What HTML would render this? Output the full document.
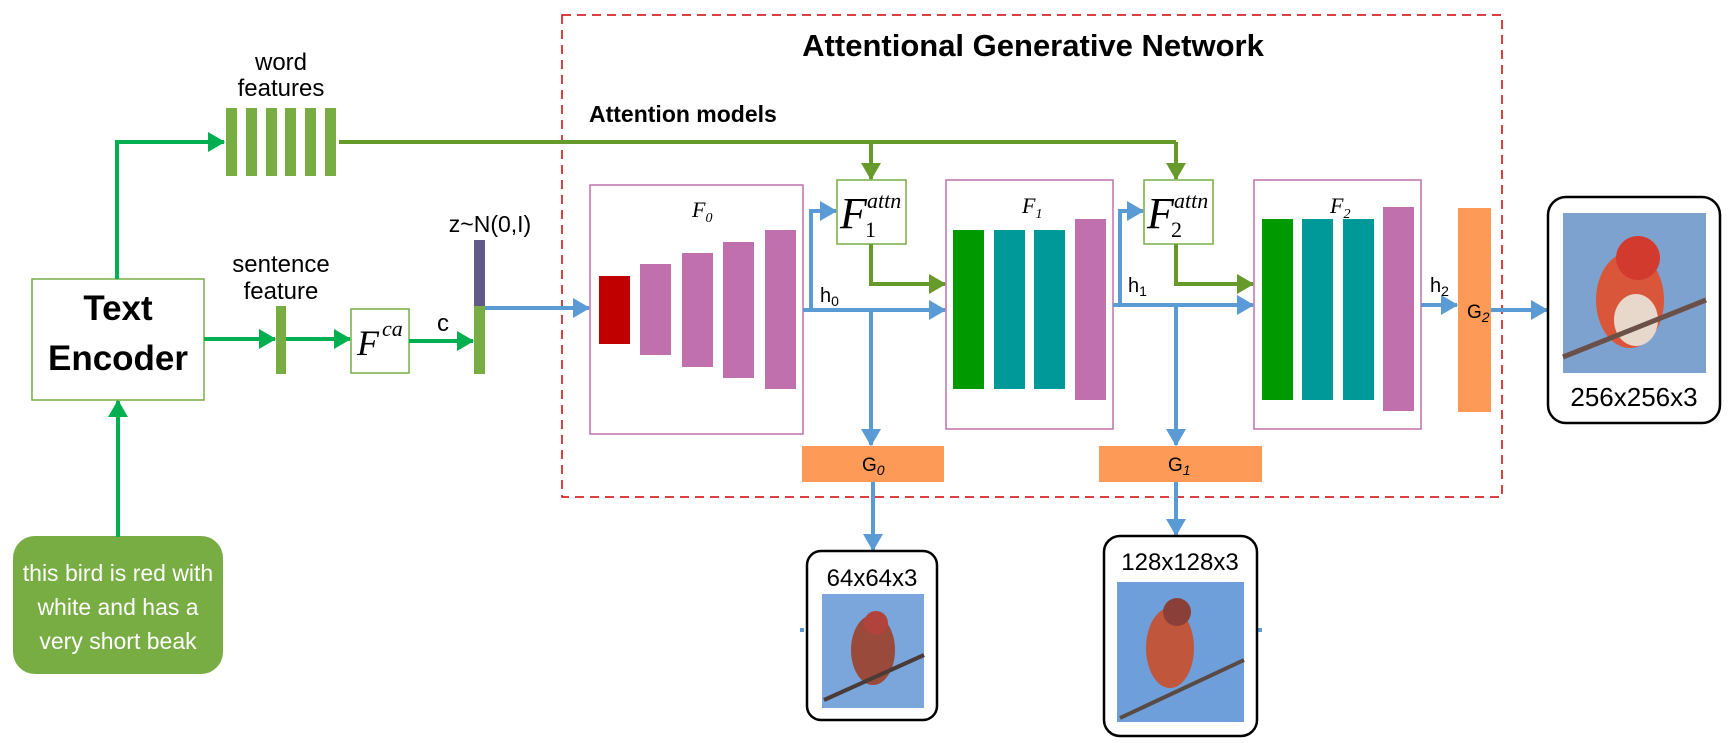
<!DOCTYPE html>
<html><head><meta charset="utf-8"><style>
html,body{margin:0;padding:0;background:#fff;}
svg{display:block;}
text{font-family:"Liberation Sans",sans-serif;}
</style></head><body>
<svg width="1732" height="743" viewBox="0 0 1732 743" xmlns="http://www.w3.org/2000/svg">
<defs>
<marker id="ag" markerWidth="4.5" markerHeight="5" refX="4" refY="2.5" orient="auto" markerUnits="strokeWidth"><path d="M0,0 L4.3,2.5 L0,5 z" fill="#00b050"/></marker>
<marker id="ao" markerWidth="4.5" markerHeight="5" refX="4" refY="2.5" orient="auto" markerUnits="strokeWidth"><path d="M0,0 L4.3,2.5 L0,5 z" fill="#669a2a"/></marker>
<marker id="ab" markerWidth="4.5" markerHeight="5" refX="4" refY="2.5" orient="auto" markerUnits="strokeWidth"><path d="M0,0 L4.3,2.5 L0,5 z" fill="#5b9bd5"/></marker>
</defs>

<rect x="562" y="15" width="940" height="482" fill="none" stroke="#d00000" stroke-width="1.5" stroke-dasharray="9,6"/>
<text x="1033" y="56" font-size="31" font-weight="bold" text-anchor="middle">Attentional Generative Network</text>
<text x="589" y="122" font-size="23" font-weight="bold">Attention models</text>

<rect x="32" y="279" width="172" height="121" fill="#fff" stroke="#77ad43" stroke-width="1.5"/>
<text x="118" y="320" font-size="35" font-weight="bold" text-anchor="middle">Text</text>
<text x="118" y="370" font-size="35" font-weight="bold" text-anchor="middle">Encoder</text>

<rect x="13" y="536" width="210" height="138" rx="22" fill="#77ad43"/>
<text font-size="23" fill="#fff" text-anchor="middle"><tspan x="118" y="581">this bird is red with</tspan><tspan x="118" y="615">white and has a</tspan><tspan x="118" y="649">very short beak</tspan></text>
<line x1="118" y1="537" x2="118" y2="401" stroke="#00b050" stroke-width="4" marker-end="url(#ag)"/>

<polyline points="117,279 117,142 224,142" fill="none" stroke="#00b050" stroke-width="4" marker-end="url(#ag)"/>
<g fill="#77ad43">
<rect x="226" y="108" width="11" height="68"/><rect x="246" y="108" width="11" height="68"/><rect x="266" y="108" width="11" height="68"/><rect x="285" y="108" width="11" height="68"/><rect x="305" y="108" width="11" height="68"/><rect x="325" y="108" width="11" height="68"/>
</g>
<text x="281" y="70" font-size="24" text-anchor="middle">word</text>
<text x="281" y="96" font-size="24" text-anchor="middle">features</text>
<polyline points="339,142 1176,142" fill="none" stroke="#669a2a" stroke-width="4"/>
<line x1="871" y1="142" x2="871" y2="179" stroke="#669a2a" stroke-width="4" marker-end="url(#ao)"/>
<line x1="1176" y1="142" x2="1176" y2="179" stroke="#669a2a" stroke-width="4" marker-end="url(#ao)"/>

<text x="281" y="272" font-size="24" text-anchor="middle">sentence</text>
<text x="281" y="299" font-size="24" text-anchor="middle">feature</text>
<line x1="204" y1="339" x2="275" y2="339" stroke="#00b050" stroke-width="4" marker-end="url(#ag)"/>
<rect x="276" y="306" width="10" height="68" fill="#77ad43"/>
<line x1="286" y1="339" x2="350" y2="339" stroke="#00b050" stroke-width="4" marker-end="url(#ag)"/>
<rect x="351" y="309" width="58" height="64" fill="#fff" stroke="#77ad43" stroke-width="1.5"/>
<text x="357" y="355" font-size="36" font-style="italic" style="font-family:'Liberation Serif',serif">F</text>
<text x="382" y="336" font-size="22" font-style="italic" style="font-family:'Liberation Serif',serif">ca</text>
<line x1="409" y1="341" x2="473" y2="341" stroke="#00b050" stroke-width="4" marker-end="url(#ag)"/>
<text x="443" y="331" font-size="24" text-anchor="middle">c</text>
<rect x="474" y="240" width="11" height="66" fill="#5f5a8a"/>
<rect x="474" y="306" width="11" height="68" fill="#77ad43"/>
<text x="490" y="232" font-size="23" text-anchor="middle">z~N(0,I)</text>
<line x1="485" y1="308" x2="589" y2="308" stroke="#5b9bd5" stroke-width="4" marker-end="url(#ab)"/>

<rect x="590" y="185" width="213" height="249" fill="#fff" stroke="#bf70ad" stroke-width="1.5"/>
<text x="692" y="217" font-size="22" font-style="italic" style="font-family:'Liberation Serif',serif">F<tspan font-size="14" dy="5">0</tspan></text>
<rect x="599" y="276" width="31" height="68" fill="#c00000"/>
<g fill="#bf70ad">
<rect x="640" y="264" width="31" height="91"/><rect x="682" y="253" width="31" height="114"/><rect x="723" y="242" width="31" height="136"/><rect x="765" y="230" width="31" height="159"/>
</g>
<line x1="803" y1="310" x2="945" y2="310" stroke="#5b9bd5" stroke-width="4" marker-end="url(#ab)"/>
<polyline points="811,310 811,211 836,211" fill="none" stroke="#5b9bd5" stroke-width="4" marker-end="url(#ab)"/>
<text x="820" y="302" font-size="20">h<tspan font-size="14" dy="4">0</tspan></text>
<line x1="871" y1="310" x2="871" y2="445" stroke="#5b9bd5" stroke-width="4" marker-end="url(#ab)"/>

<rect x="837" y="180" width="69" height="64" fill="#fff" stroke="#77ad43" stroke-width="1.5"/>
<text x="840" y="228" font-size="44" font-style="italic" style="font-family:'Liberation Serif',serif">F</text>
<text x="867" y="208" font-size="22" font-style="italic" style="font-family:'Liberation Serif',serif">attn</text>
<text x="865" y="237" font-size="22" style="font-family:'Liberation Serif',serif">1</text>
<polyline points="871,244 871,284 945,284" fill="none" stroke="#669a2a" stroke-width="4" marker-end="url(#ao)"/>

<rect x="946" y="180" width="167" height="249" fill="#fff" stroke="#bf70ad" stroke-width="1.5"/>
<text x="1022" y="213" font-size="22" font-style="italic" style="font-family:'Liberation Serif',serif">F<tspan font-size="14" dy="5">1</tspan></text>
<rect x="953" y="230" width="31" height="159" fill="#009900"/>
<rect x="994" y="230" width="31" height="159" fill="#009999"/>
<rect x="1034" y="230" width="31" height="159" fill="#009999"/>
<rect x="1075" y="219" width="31" height="181" fill="#bf70ad"/>
<line x1="1113" y1="305" x2="1253" y2="305" stroke="#5b9bd5" stroke-width="4" marker-end="url(#ab)"/>
<polyline points="1120,305 1120,211 1143,211" fill="none" stroke="#5b9bd5" stroke-width="4" marker-end="url(#ab)"/>
<text x="1128" y="292" font-size="20">h<tspan font-size="14" dy="4">1</tspan></text>
<line x1="1176" y1="305" x2="1176" y2="445" stroke="#5b9bd5" stroke-width="4" marker-end="url(#ab)"/>

<rect x="1144" y="180" width="69" height="64" fill="#fff" stroke="#77ad43" stroke-width="1.5"/>
<text x="1147" y="228" font-size="44" font-style="italic" style="font-family:'Liberation Serif',serif">F</text>
<text x="1174" y="208" font-size="22" font-style="italic" style="font-family:'Liberation Serif',serif">attn</text>
<text x="1171" y="237" font-size="22" style="font-family:'Liberation Serif',serif">2</text>
<polyline points="1176,244 1176,284 1253,284" fill="none" stroke="#669a2a" stroke-width="4" marker-end="url(#ao)"/>

<rect x="1254" y="180" width="167" height="249" fill="#fff" stroke="#bf70ad" stroke-width="1.5"/>
<text x="1330" y="213" font-size="22" font-style="italic" style="font-family:'Liberation Serif',serif">F<tspan font-size="14" dy="5">2</tspan></text>
<rect x="1262" y="219" width="31" height="181" fill="#009900"/>
<rect x="1302" y="219" width="31" height="181" fill="#009999"/>
<rect x="1343" y="219" width="31" height="181" fill="#009999"/>
<rect x="1383" y="207" width="31" height="204" fill="#bf70ad"/>
<line x1="1421" y1="305" x2="1457" y2="305" stroke="#5b9bd5" stroke-width="4" marker-end="url(#ab)"/>
<text x="1430" y="292" font-size="20">h<tspan font-size="14" dy="4">2</tspan></text>
<rect x="1458" y="208" width="33" height="204" fill="#fd9a58"/>
<text x="1467" y="318" font-size="19">G<tspan font-size="14" dy="4" font-style="italic">2</tspan></text>
<line x1="1491" y1="310" x2="1547" y2="310" stroke="#5b9bd5" stroke-width="4" marker-end="url(#ab)"/>

<rect x="802" y="446" width="142" height="36" fill="#fd9a58"/>
<text x="862" y="471" font-size="19">G<tspan font-size="14" dy="4" font-style="italic">0</tspan></text>
<line x1="873" y1="482" x2="873" y2="550" stroke="#5b9bd5" stroke-width="4" marker-end="url(#ab)"/>
<rect x="1099" y="446" width="163" height="36" fill="#fd9a58"/>
<text x="1168" y="471" font-size="19">G<tspan font-size="14" dy="4" font-style="italic">1</tspan></text>
<line x1="1176" y1="482" x2="1176" y2="535" stroke="#5b9bd5" stroke-width="4" marker-end="url(#ab)"/>
<rect x="800" y="628" width="4" height="4" fill="#5b9bd5"/>
<rect x="1258" y="628" width="4" height="4" fill="#5b9bd5"/>

<rect x="807" y="551" width="130" height="169" rx="14" fill="#fff" stroke="#000" stroke-width="2.5"/>
<text x="872" y="586" font-size="24" text-anchor="middle">64x64x3</text>
<rect x="822" y="594" width="102" height="114" fill="#7aa6dc"/>
<ellipse cx="873" cy="650" rx="22" ry="35" fill="#9a4a3a"/>
<circle cx="876" cy="623" r="12" fill="#b0443c"/>
<path d="M824,700 L924,655" stroke="#4a3a38" stroke-width="4"/>

<rect x="1104" y="536" width="153" height="200" rx="16" fill="#fff" stroke="#000" stroke-width="2.5"/>
<text x="1180" y="570" font-size="24" text-anchor="middle">128x128x3</text>
<rect x="1117" y="582" width="127" height="140" fill="#6f9fdb"/>
<ellipse cx="1170" cy="648" rx="24" ry="40" fill="#c0563c"/>
<circle cx="1177" cy="612" r="14" fill="#8a4038"/>
<path d="M1120,718 L1244,660" stroke="#5a4a45" stroke-width="4"/>

<rect x="1548" y="197" width="172" height="226" rx="18" fill="#fff" stroke="#000" stroke-width="2.5"/>
<rect x="1563" y="213" width="143" height="160" fill="#7ea2cf"/>
<ellipse cx="1630" cy="300" rx="34" ry="48" fill="#d9563a"/>
<ellipse cx="1636" cy="320" rx="22" ry="26" fill="#e8d8cc"/>
<circle cx="1638" cy="258" r="22" fill="#d23a2e"/>
<path d="M1563,357 L1706,300" stroke="#6a5048" stroke-width="5"/>
<text x="1634" y="406" font-size="26" text-anchor="middle">256x256x3</text>
</svg>
</body></html>
